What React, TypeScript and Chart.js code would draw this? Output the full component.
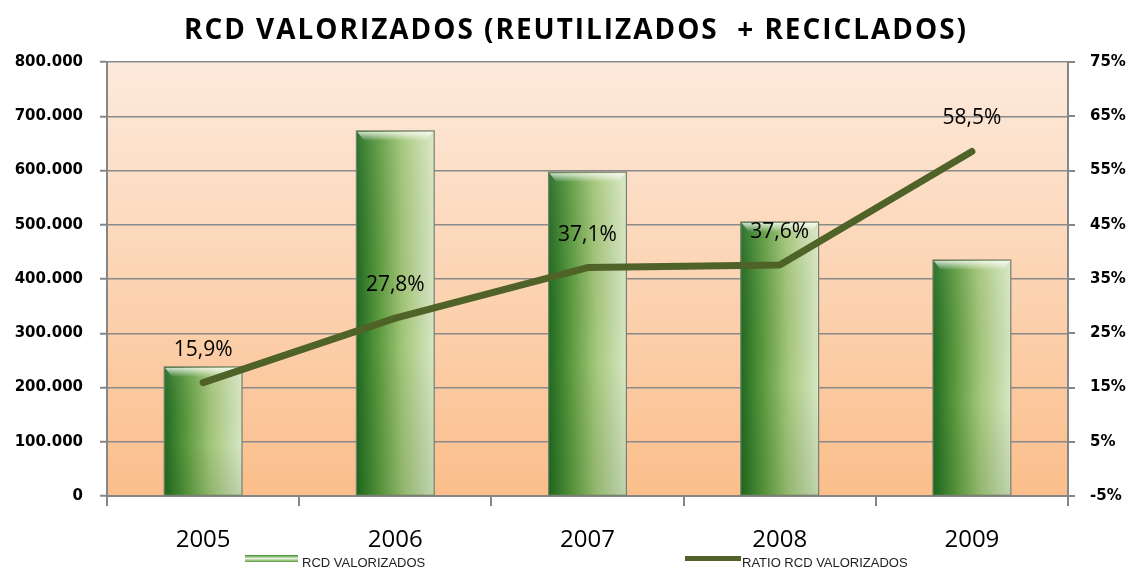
import React, { useEffect, useRef } from "react";
import { Chart, registerables } from "chart.js";

Chart.register(...registerables);

const TITLE = "RCD VALORIZADOS (REUTILIZADOS  + RECICLADOS)";
const YEARS = ["2005", "2006", "2007", "2008", "2009"];
const RCD_VALORIZADOS = [238000, 673000, 597000, 505000, 435000];
const RATIO_VALORIZADOS = [15.9, 27.8, 37.1, 37.6, 58.5];
const RATIO_LABELS = ["15,9%", "27,8%", "37,1%", "37,6%", "58,5%"];
const BAR_LEGEND = "RCD VALORIZADOS";
const LINE_LEGEND = "RATIO RCD VALORIZADOS";

const LINE_COLOR = "#4f6228";
const GRID_COLOR = "#8a8a8a";
const BAR_FRACTION = 0.405;

function fmtThousands(v: number) {
  const s = Math.round(v).toString();
  return s.replace(/\B(?=(\d{3})+(?!\d))/g, ".");
}

const decorPlugin = {
  id: "decor",
  beforeDraw(chart: any) {
    const { ctx, chartArea } = chart;
    if (!chartArea) return;
    const g = ctx.createLinearGradient(0, chartArea.top, 0, chartArea.bottom);
    g.addColorStop(0, "#fdeadc");
    g.addColorStop(1, "#fbbe8b");
    ctx.save();
    ctx.fillStyle = g;
    ctx.fillRect(chartArea.left, chartArea.top, chartArea.right - chartArea.left, chartArea.bottom - chartArea.top);
    ctx.restore();
  },
  afterDatasetDraw(chart: any, args: any) {
    if (args.index !== 1) return;
    const { ctx } = chart;
    const meta = chart.getDatasetMeta(1);
    ctx.save();
    meta.data.forEach((bar: any) => {
      const left = bar.x - bar.width / 2;
      const top = bar.y;
      const h = bar.base - bar.y;
      const vg = ctx.createLinearGradient(0, top, 0, bar.base);
      vg.addColorStop(0, "rgba(255,255,255,0.08)");
      vg.addColorStop(0.6, "rgba(0,0,0,0)");
      vg.addColorStop(1, "rgba(10,70,10,0.12)");
      ctx.fillStyle = vg;
      ctx.fillRect(left, top, bar.width, h);
      const bg = ctx.createLinearGradient(0, top, 0, top + 10);
      bg.addColorStop(0, "rgba(255,255,255,0.85)");
      bg.addColorStop(1, "rgba(255,255,255,0)");
      ctx.fillStyle = bg;
      ctx.beginPath();
      ctx.moveTo(left + 1, top + 1);
      ctx.lineTo(left + bar.width - 1, top + 1);
      ctx.lineTo(left + bar.width - 8, top + 10);
      ctx.lineTo(left + 8, top + 10);
      ctx.closePath();
      ctx.fill();
      ctx.strokeStyle = "#76806e";
      ctx.lineWidth = 1.2;
      ctx.strokeRect(left, top, bar.width, h);
    });
    ctx.restore();
  },
  afterDatasetsDraw(chart: any) {
    const { ctx } = chart;
    const meta = chart.getDatasetMeta(0);
    ctx.save();
    ctx.font = '21px "Open Sans"';
    ctx.fillStyle = "#000";
    ctx.textAlign = "center";
    ctx.textBaseline = "middle";
    meta.data.forEach((pt: any, i: number) => {
      ctx.fillText(RATIO_LABELS[i], pt.x, pt.y - 33);
    });
    ctx.restore();
  },
  afterDraw(chart: any) {
    const { ctx } = chart;
    ctx.save();
    ctx.font = 'bold 28px "Open Sans"';
    (ctx as any).letterSpacing = "2px";
    ctx.fillStyle = "#000";
    ctx.textAlign = "center";
    ctx.textBaseline = "alphabetic";
    ctx.fillText(TITLE, 576, 39, 784);
    (ctx as any).letterSpacing = "0px";

    // legend
    const sg = ctx.createLinearGradient(0, 555, 0, 562);
    sg.addColorStop(0, "#3d8a2e");
    sg.addColorStop(0.5, "#e8f2dc");
    sg.addColorStop(1, "#5c9a3c");
    ctx.fillStyle = sg;
    ctx.fillRect(245, 555, 53, 7);
    ctx.strokeStyle = LINE_COLOR;
    ctx.lineWidth = 5;
    ctx.beginPath();
    ctx.moveTo(685, 558.5);
    ctx.lineTo(741, 558.5);
    ctx.stroke();
    ctx.font = '13px "Liberation Sans"';
    ctx.fillStyle = "#222";
    ctx.textAlign = "left";
    ctx.textBaseline = "top";
    ctx.fillText(BAR_LEGEND, 302, 557);
    ctx.fillText(LINE_LEGEND, 742, 557);
    ctx.restore();
  },
};

export default function App() {
  const ref = useRef<HTMLCanvasElement | null>(null);
  useEffect(() => {
    document.body.style.margin = "0";
    const canvas = ref.current;
    if (!canvas) return;
    const chart = new Chart(canvas, {
      type: "bar",
      data: {
        labels: YEARS,
        datasets: [
          {
            type: "line",
            label: LINE_LEGEND,
            data: RATIO_VALORIZADOS,
            yAxisID: "y1",
            borderColor: LINE_COLOR,
            backgroundColor: LINE_COLOR,
            borderWidth: 7,
            borderCapStyle: "round",
            borderJoinStyle: "round",
            pointRadius: 0,
            tension: 0,
            order: 1,
          } as any,
          {
            type: "bar",
            label: BAR_LEGEND,
            data: RCD_VALORIZADOS,
            yAxisID: "y",
            order: 2,
            categoryPercentage: 1,
            barPercentage: BAR_FRACTION,
            backgroundColor: (c: any) => {
              const chart = c.chart;
              if (!chart.chartArea || c.type !== "data") return "#9bbb59";
              const xs = chart.scales.x;
              const cx = xs.getPixelForValue(c.dataIndex);
              const w = (xs.width / YEARS.length) * BAR_FRACTION;
              const g = chart.ctx.createLinearGradient(cx - w / 2, 0, cx + w / 2, 0);
              g.addColorStop(0, "#1f6a1f");
              g.addColorStop(0.3, "#5e9c40");
              g.addColorStop(0.6, "#a4c679");
              g.addColorStop(1, "#d9e7c6");
              return g;
            },
            borderWidth: 0,
          } as any,
        ],
      },
      options: {
        animation: false,
        responsive: false,
        layout: { padding: { top: 62, left: 0, right: 0, bottom: 0 } },
        plugins: {
          legend: { display: false },
          title: { display: false },
          tooltip: { enabled: false },
        },
        scales: {
          x: {
            offset: true,
            grid: {
              display: true,
              drawOnChartArea: false,
              offset: true,
              tickLength: 10,
              color: "#868686",
              lineWidth: 2,
            },
            border: { display: true, color: "#868686", width: 2 },
            ticks: {
              color: "#000",
              font: { family: "Open Sans", size: 24 },
              padding: 20,
              maxRotation: 0,
            },
            afterFit: (s: any) => {
              s.height = 71;
            },
          },
          y: {
            position: "left",
            min: 0,
            max: 800000,
            ticks: {
              stepSize: 100000,
              color: "#000",
              font: { family: "DejaVu Sans", size: 15, weight: "bold" },
              padding: 17,
              callback: (v: any) => fmtThousands(Number(v)),
            },
            grid: {
              color: GRID_COLOR,
              lineWidth: 1.5,
              tickLength: 7,
              tickColor: "#868686",
              tickWidth: 2,
            },
            border: { display: true, color: "#868686", width: 2 },
            afterFit: (s: any) => {
              s.width = 107;
            },
          },
          y1: {
            position: "right",
            min: -5,
            max: 75,
            ticks: {
              stepSize: 10,
              color: "#000",
              font: { family: "DejaVu Sans", size: 15, weight: "bold" },
              padding: 15,
              callback: (v: any) => `${v}%`,
            },
            grid: {
              drawOnChartArea: false,
              tickLength: 7,
              color: "#868686",
              lineWidth: 2,
            },
            border: { display: true, color: "#868686", width: 2 },
            afterFit: (s: any) => {
              s.width = 62;
            },
          },
        },
      },
      plugins: [decorPlugin],
    });
    return () => chart.destroy();
  }, []);
  return (
    <div style={{ position: "absolute", left: 0, top: 0, width: 1130, height: 567, background: "#fff" }}>
      <canvas ref={ref} width={1130} height={567} style={{ display: "block" }} />
    </div>
  );
}
